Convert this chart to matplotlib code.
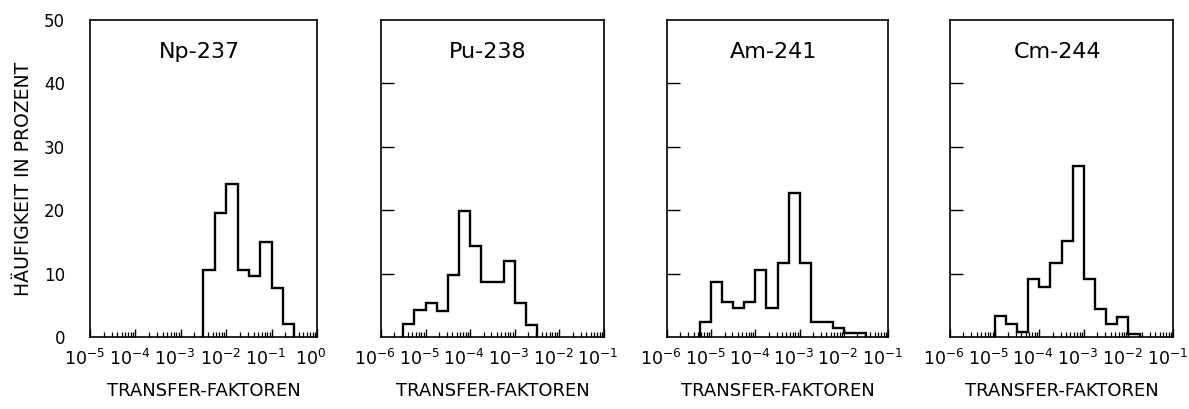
import numpy as np
import matplotlib
matplotlib.use("Agg")
import matplotlib.pyplot as plt
import matplotlib.transforms as mtransforms
from matplotlib.ticker import FixedLocator, LogLocator, NullFormatter

# relative frequency (percent) per quarter-decade class of the transfer factor
nuclides = ["Np-237", "Pu-238", "Am-241", "Cm-244"]
first_edge = [-2.5, -5.5, -5.25, -5.0]   # log10 of the lower edge of the first class
bin_width = 0.25                          # class width in decades
np237 = [10.6, 19.6, 24.1, 10.6, 9.6, 15.0, 7.7, 2.0]
pu238 = [2.0, 4.2, 5.3, 4.1, 9.8, 19.9, 14.4, 8.7, 8.7, 12.0, 5.3, 1.9]
am241 = [2.4, 8.6, 5.6, 4.5, 5.6, 10.6, 4.5, 11.6, 22.7, 11.6, 2.4, 2.4, 1.5, 0.6, 0.6]
cm244 = [3.3, 2.0, 0.8, 9.1, 7.9, 11.6, 15.1, 27.0, 9.2, 4.4, 2.0, 3.2, 0.5]
decades = [(-5, 0), (-6, -1), (-6, -1), (-6, -1)]
y_labels = [0, 10, 20, 30, 40, 50]
y_marks = [10, 20, 30, 40]

freqs = [np237, pu238, am241, cm244]

fig = plt.figure(figsize=(11.89, 4.09), dpi=100)
lefts = [0.0757, 0.3204, 0.561, 0.799]
widths = [0.1909, 0.1876, 0.1859, 0.1876]

# decade labels sit a little left of their tick
shift = mtransforms.ScaledTranslation(-6 / 100, 0, fig.dpi_scale_trans)

for i in range(4):
    ax = fig.add_axes([lefts[i], 0.176, widths[i], 0.775])
    vals = np.array(freqs[i])
    edges = 10.0 ** (first_edge[i] + bin_width * np.arange(len(vals) + 1))
    ax.stairs(vals, edges, baseline=0, color="black", lw=1.7)

    lo, hi = decades[i]
    ax.set_xscale("log")
    ax.set_xlim(10.0 ** lo, 10.0 ** hi)
    ax.set_ylim(0, 50)

    exps = list(range(lo, hi + 1))
    ax.xaxis.set_major_locator(FixedLocator([10.0 ** e for e in exps]))
    ax.xaxis.set_major_formatter(NullFormatter())
    ax.xaxis.set_minor_locator(LogLocator(base=10, subs=np.arange(2, 10), numticks=20))
    ax.xaxis.set_minor_formatter(NullFormatter())
    ax.tick_params(axis="x", which="major", direction="in", length=6, width=1)
    ax.tick_params(axis="x", which="minor", direction="in", length=3.5, width=0.9)
    for e in exps:
        ax.text(10.0 ** e, -0.088, f"$10^{{{e}}}$", transform=ax.get_xaxis_transform() + shift,
                ha="center", va="baseline", fontsize=12.5, clip_on=False)

    ax.tick_params(axis="y", direction="in", length=9, width=1, pad=18, labelsize=12)
    if i == 0:
        ax.set_yticks(y_labels)
        ax.set_ylabel("HÄUFIGKEIT IN PROZENT", fontsize=13.5, labelpad=8)
        for t in ax.yaxis.get_major_ticks():
            if t.get_loc() in (0, 50):
                t.tick1line.set_visible(False)
    else:
        ax.set_yticks(y_marks)
        ax.set_yticklabels([])

    ax.set_xlabel("TRANSFER-FAKTOREN", fontsize=13, va="center")
    ax.xaxis.set_label_coords(0.5, -0.17)
    ax.text(0.48, 0.9, nuclides[i], transform=ax.transAxes, ha="center", va="center",
            fontsize=16)

    for s in ax.spines.values():
        s.set_linewidth(1.2)

fig.savefig("out.png", dpi=100)
